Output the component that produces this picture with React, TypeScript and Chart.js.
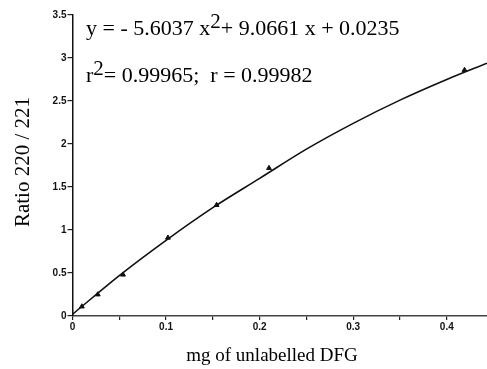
import React, { useEffect, useRef } from "react";
import { Chart, registerables } from "chart.js";

Chart.register(...registerables);

// Measured data points (mg of unlabelled DFG vs ratio 220/221)
const pointX = [0.01, 0.027, 0.054, 0.102, 0.154, 0.21, 0.419];
const pointY = [0.11, 0.25, 0.48, 0.91, 1.29, 1.72, 2.86];

// Fitted curve
const fitX = [0, 0.05, 0.1, 0.15, 0.2, 0.25, 0.3, 0.35, 0.4, 0.443];
const fitY = [0.02, 0.47, 0.88, 1.26, 1.6, 1.94, 2.24, 2.51, 2.75, 2.94];

// Axis ticks
const xTicks = [0, 0.05, 0.1, 0.15, 0.2, 0.25, 0.3, 0.35, 0.4];
const xTickLabels = ["0", "", "0.1", "", "0.2", "", "0.3", "", "0.4"];
const yTicks = [0, 0.5, 1, 1.5, 2, 2.5, 3, 3.5];
const yTickLabels = ["0", "0.5", "1", "1.5", "2", "2.5", "3", "3.5"];

const equationMain = ["y = - 5.6037 x", "2", "+ 9.0661 x + 0.0235"];
const equationR = ["r", "2", "= 0.99965;  r = 0.99982"];
const xTitle = "mg of unlabelled DFG";
const yTitle = "Ratio 220 / 221";

const SERIF = "'Liberation Serif', 'Times New Roman', serif";

const textPlugin = {
  id: "textPlugin",
  afterDraw(chart: any) {
    const ctx = chart.ctx as CanvasRenderingContext2D;
    ctx.save();
    ctx.fillStyle = "#000";
    ctx.textBaseline = "alphabetic";
    ctx.textAlign = "left";
    const drawSup = (parts: string[], x: number, y: number) => {
      ctx.font = `22px ${SERIF}`;
      ctx.fillText(parts[0], x, y);
      let cx = x + ctx.measureText(parts[0]).width;
      ctx.font = `21px ${SERIF}`;
      ctx.fillText(parts[1], cx, y - 7);
      cx += ctx.measureText(parts[1]).width;
      ctx.font = `22px ${SERIF}`;
      ctx.fillText(parts[2], cx, y);
    };
    drawSup(equationMain, 86, 35);
    drawSup(equationR, 86, 82);

    // x title
    ctx.font = `19px ${SERIF}`;
    ctx.textAlign = "center";
    ctx.fillText(xTitle, 272, 361);

    // y title
    ctx.save();
    ctx.translate(29, 162);
    ctx.rotate(-Math.PI / 2);
    ctx.textAlign = "center";
    ctx.font = `21px ${SERIF}`;
    ctx.fillText(yTitle, 0, 0);
    ctx.restore();
    ctx.restore();
  },
};

export default function App() {
  const ref = useRef<HTMLCanvasElement | null>(null);
  useEffect(() => {
    if (!ref.current) return;
    const chart = new Chart(ref.current, {
      type: "scatter",
      data: {
        datasets: [
          {
            type: "line",
            data: fitX.map((x, i) => ({ x, y: fitY[i] })),
            borderColor: "#111",
            borderWidth: 1.6,
            pointRadius: 0,
            cubicInterpolationMode: "monotone",
            fill: false,
          } as any,
          {
            data: pointX.map((x, i) => ({ x, y: pointY[i] })),
            pointStyle: "triangle",
            pointRadius: 2.8,
            backgroundColor: "#111",
            borderColor: "#111",
            borderWidth: 1,
          },
        ],
      },
      options: {
        responsive: false,
        animation: false,
        layout: { padding: { top: 15, right: 0, bottom: 0, left: 0 } },
        plugins: {
          legend: { display: false },
          tooltip: { enabled: false },
        },
        scales: {
          x: {
            type: "linear",
            min: 0,
            max: 0.443,
            afterBuildTicks: (scale: any) => {
              scale.ticks = xTicks.map((v) => ({ value: v }));
            },
            afterFit: (scale: any) => {
              scale.height = 53;
            },
            ticks: {
              autoSkip: false,
              maxRotation: 0,
              padding: 1,
              color: "#111",
              font: { family: "'Liberation Sans', Arial, sans-serif", size: 10, weight: "bold" },
              callback: (value: any) => {
                const i = xTicks.findIndex((t) => Math.abs(t - Number(value)) < 1e-9);
                return i >= 0 ? xTickLabels[i] : "";
              },
            },
            grid: {
              drawOnChartArea: false,
              drawTicks: true,
              tickLength: 4,
              color: "#222",
              lineWidth: 1.2,
            },
            border: { display: true, color: "#444", width: 1.5 },
          },
          y: {
            type: "linear",
            min: 0,
            max: 3.5,
            afterBuildTicks: (scale: any) => {
              scale.ticks = yTicks.map((v) => ({ value: v }));
            },
            afterFit: (scale: any) => {
              scale.width = 72.5;
            },
            ticks: {
              autoSkip: false,
              padding: 1,
              color: "#111",
              font: { family: "'Liberation Sans', Arial, sans-serif", size: 10, weight: "bold" },
              callback: (value: any) => {
                const i = yTicks.findIndex((t) => Math.abs(t - Number(value)) < 1e-9);
                return i >= 0 ? yTickLabels[i] : "";
              },
            },
            grid: {
              drawOnChartArea: false,
              drawTicks: true,
              tickLength: 5,
              color: "#222",
              lineWidth: 1.2,
            },
            border: { display: true, color: "#111", width: 1.5 },
          },
        },
      },
      plugins: [textPlugin],
    });
    return () => chart.destroy();
  }, []);
  return (
    <div style={{ position: "fixed", left: 0, top: 0, width: 487, height: 369, overflow: "hidden", background: "#fff" }}>
      <canvas ref={ref} width={492} height={369} style={{ display: "block", width: 492, height: 369 }} />
    </div>
  );
}
